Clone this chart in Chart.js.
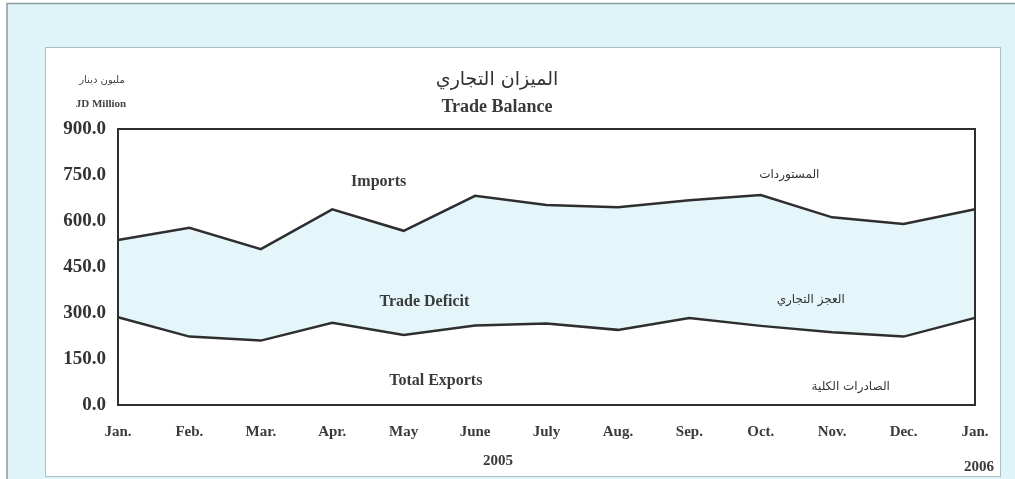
<!DOCTYPE html>
<html>
<head>
<meta charset="utf-8">
<script src="https://cdn.jsdelivr.net/npm/chart.js@4"></script>
<style>
  html, body { margin: 0; padding: 0; background: #fff; }
  canvas { display: block; }
</style>
</head>
<body>
<canvas id="myChart" width="1015" height="479"></canvas>
<script>
const months = ['Jan.', 'Feb.', 'Mar.', 'Apr.', 'May', 'June', 'July', 'Aug.', 'Sep.', 'Oct.', 'Nov.', 'Dec.', 'Jan.'];
const imports = [538, 578, 508, 638, 568, 682, 652, 645, 668, 685, 612, 590, 638];
const exportsTotal = [286, 223, 210, 268, 228, 259, 266, 245, 284, 258, 237, 223, 284];
const yTicks = [0, 150, 300, 450, 600, 750, 900];

const serif = '"Liberation Serif", "Times New Roman", serif';
const arabic = '"DejaVu Sans", sans-serif';

// page frame, panel and plot box
const framePlugin = {
    id: 'frame',
    beforeDraw(chart) {
        const c = chart.ctx;
        c.save();
        c.fillStyle = '#ffffff';
        c.fillRect(0, 0, chart.width, chart.height);
        c.fillStyle = '#def4f8';
        c.fillRect(7, 3, chart.width - 7, chart.height - 3);
        c.strokeStyle = '#8a9a9e';
        c.lineWidth = 1.5;
        c.beginPath();
        c.moveTo(7, chart.height);
        c.lineTo(7, 3.5);
        c.lineTo(chart.width, 3.5);
        c.stroke();
        c.fillStyle = '#ffffff';
        c.fillRect(45, 47, 955, 429);
        c.strokeStyle = '#a9c0c4';
        c.lineWidth = 1;
        c.strokeRect(45.5, 47.5, 955, 429);
        c.restore();
    },
    afterDatasetsDraw(chart) {
        const a = chart.chartArea;
        const c = chart.ctx;
        c.save();
        c.strokeStyle = '#2e2e2e';
        c.lineWidth = 2;
        c.strokeRect(a.left, a.top, a.right - a.left, a.bottom - a.top);
        c.restore();
    }
};

// titles and series labels
const labelsPlugin = {
    id: 'labels',
    afterDraw(chart) {
        const c = chart.ctx;
        const x = chart.scales.x;
        const y = chart.scales.y;
        const put = (txt, px, py, font, color, align) => {
            c.font = font;
            c.fillStyle = color;
            c.textAlign = align || 'center';
            c.textBaseline = 'middle';
            c.fillText(txt, px, py);
        };
        c.save();
        put('الميزان التجاري', 497, 80, '19px ' + arabic, '#333', 'center');
        put('Trade Balance', 497, 107, 'bold 18px ' + serif, '#3a3a3a', 'center');
        put('مليون دينار', 102, 80, '10px ' + arabic, '#444', 'center');
        put('JD Million', 101, 104, 'bold 11px ' + serif, '#444', 'center');

        put('Imports', x.getPixelForValue(3.65), y.getPixelForValue(728), 'bold 16px ' + serif, '#3a3a3a');
        put('Trade Deficit', x.getPixelForValue(4.29), y.getPixelForValue(336), 'bold 16px ' + serif, '#3a3a3a');
        put('Total Exports', x.getPixelForValue(4.45), y.getPixelForValue(79), 'bold 16px ' + serif, '#3a3a3a');
        put('المستوردات', x.getPixelForValue(9.40), y.getPixelForValue(750), '12px ' + arabic, '#333');
        put('العجز التجاري', x.getPixelForValue(9.70), y.getPixelForValue(342), '12px ' + arabic, '#333');
        put('الصادرات الكلية', x.getPixelForValue(10.26), y.getPixelForValue(59), '12px ' + arabic, '#333');

        put('2005', x.getPixelForValue(5.32), 461, 'bold 15px ' + serif, '#3a3a3a');
        put('2006', 979, 467, 'bold 15px ' + serif, '#3a3a3a');
        c.restore();
    }
};

const ctx = document.getElementById('myChart').getContext('2d');

const config = {
    type: 'line',
    data: {
        labels: months,
        datasets: [{
            label: 'Total Exports',
            data: exportsTotal,
            borderColor: '#2e2e2e',
            borderWidth: 2.5,
            pointRadius: 0,
            tension: 0,
            fill: false
        }, {
            label: 'Imports',
            data: imports,
            borderColor: '#2e2e2e',
            borderWidth: 2.5,
            pointRadius: 0,
            tension: 0,
            fill: { target: 0 },
            backgroundColor: '#e4f6fa'
        }]
    },
    options: {
        responsive: false,
        animation: false,
        layout: { padding: { left: 0, top: 129, right: 40, bottom: 34 } },
        plugins: {
            legend: { display: false },
            tooltip: { enabled: false },
            filler: { propagate: false }
        },
        scales: {
            x: {
                offset: false,
                grid: { display: false, drawTicks: false },
                border: { display: false },
                afterFit(s) { s.height = 40; },
                ticks: {
                    padding: 18,
                    maxRotation: 0,
                    autoSkip: false,
                    color: '#3a3a3a',
                    font: { family: serif, size: 15, weight: 'bold' }
                }
            },
            y: {
                min: 0,
                max: 900,
                afterFit(s) { s.width = 118; },
                afterBuildTicks(s) { s.ticks = yTicks.map(v => ({ value: v })); },
                grid: { display: false, drawTicks: false },
                border: { display: false },
                ticks: {
                    padding: 12,
                    color: '#333333',
                    font: { family: serif, size: 19, weight: 'bold' },
                    callback: v => v.toFixed(1)
                }
            }
        }
    },
    plugins: [framePlugin, labelsPlugin]
};

const myChart = new Chart(ctx, config);
</script>
</body>
</html>
